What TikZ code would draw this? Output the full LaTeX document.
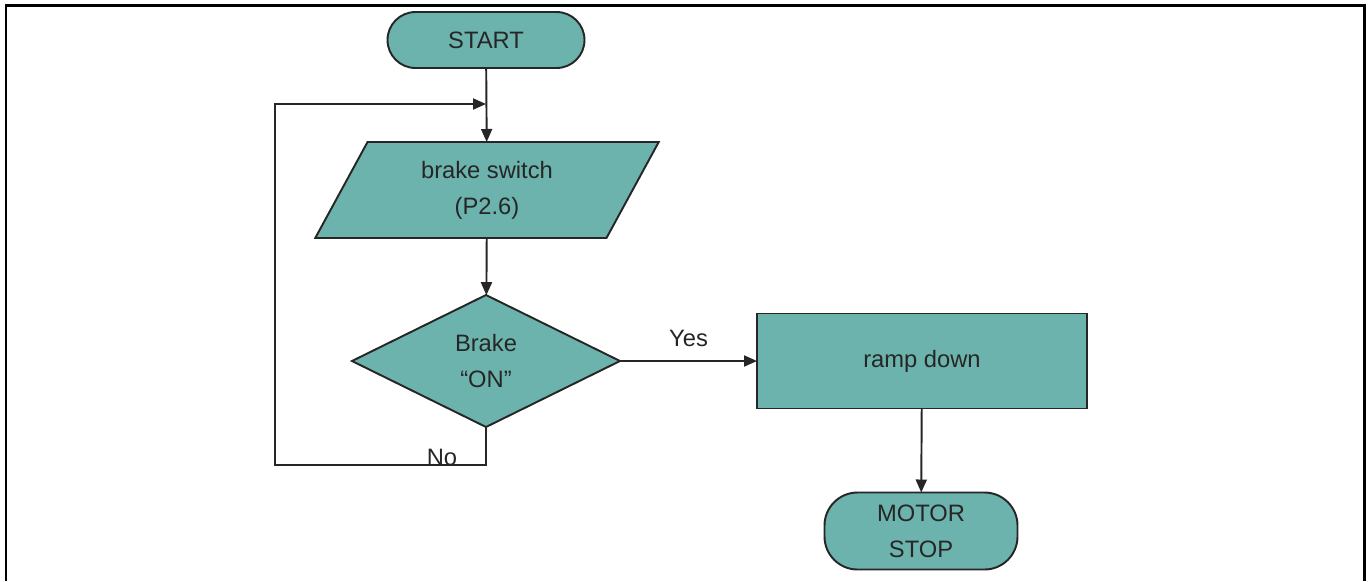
\documentclass[tikz,border=0pt]{standalone}
\usepackage{fontspec}
\setmainfont{Liberation Sans}
\usetikzlibrary{arrows.meta, positioning, shapes.geometric}
\definecolor{cteal}{HTML}{6CB3AD}
\definecolor{cline}{HTML}{262626}
\tikzset{
  every picture/.style={line width=1.1pt, draw=cline},
  every node/.style={font=\fontsize{13.5pt}{20.5pt}\selectfont, text=cline, align=center},
  flow/.style={draw=cline, fill=cteal, outer sep=0pt, inner sep=2pt},
  term/.style={flow, rectangle, rounded corners=0.56cm},
  io/.style={flow, trapezium, trapezium left angle=65, trapezium right angle=115, trapezium stretches=true},
  decision/.style={flow, diamond},
  process/.style={flow, rectangle},
  arrow/.style={-{Triangle[length=2.6mm, width=2.2mm]}, draw=cline, line width=1.1pt},
}

\begin{document}
\begin{tikzpicture}
  \useasboundingbox (0,0) rectangle (27.4,-11.62);
  % frame, open at the bottom
  \draw[black, line width=1.3pt] (0.12,-11.62) -- (0.12,-0.11) -- (27.29,-0.11) -- (27.29,-11.62);
  \node[term, minimum width=3.94cm, minimum height=1.12cm] (start) at (9.72,-0.8) {START};
  \node[io, minimum width=6.88cm, minimum height=1.92cm] (sw) at (9.74,-3.8) {brake switch\\(P2.6)};
  \node[decision, minimum width=5.36cm, minimum height=2.64cm] (dec) at (9.72,-7.22) {Brake\\``ON''};
  \node[process, minimum width=6.6cm, minimum height=1.9cm] (ramp) at (18.44,-7.22) {ramp down};
  \node[term, minimum width=3.86cm, minimum height=1.54cm, rounded corners=0.66cm] (stop) at (18.42,-10.62) {MOTOR\\STOP};
  \coordinate (loop) at (9.72,-2.08);
  \draw[arrow] (start) -- (sw);
  \draw[arrow] (sw) -- (dec);
  \draw[arrow] (dec.east) -- node[above=1.5mm] (yes) {Yes} (ramp.west);
  \draw[arrow] (ramp) -- (stop);
  \draw[arrow] (dec.south) -- ++(0,-0.76) -| (5.5,-2.08) -- (loop);
  \node (no) at (8.84,-9.14) {No};
\end{tikzpicture}
\end{document}
